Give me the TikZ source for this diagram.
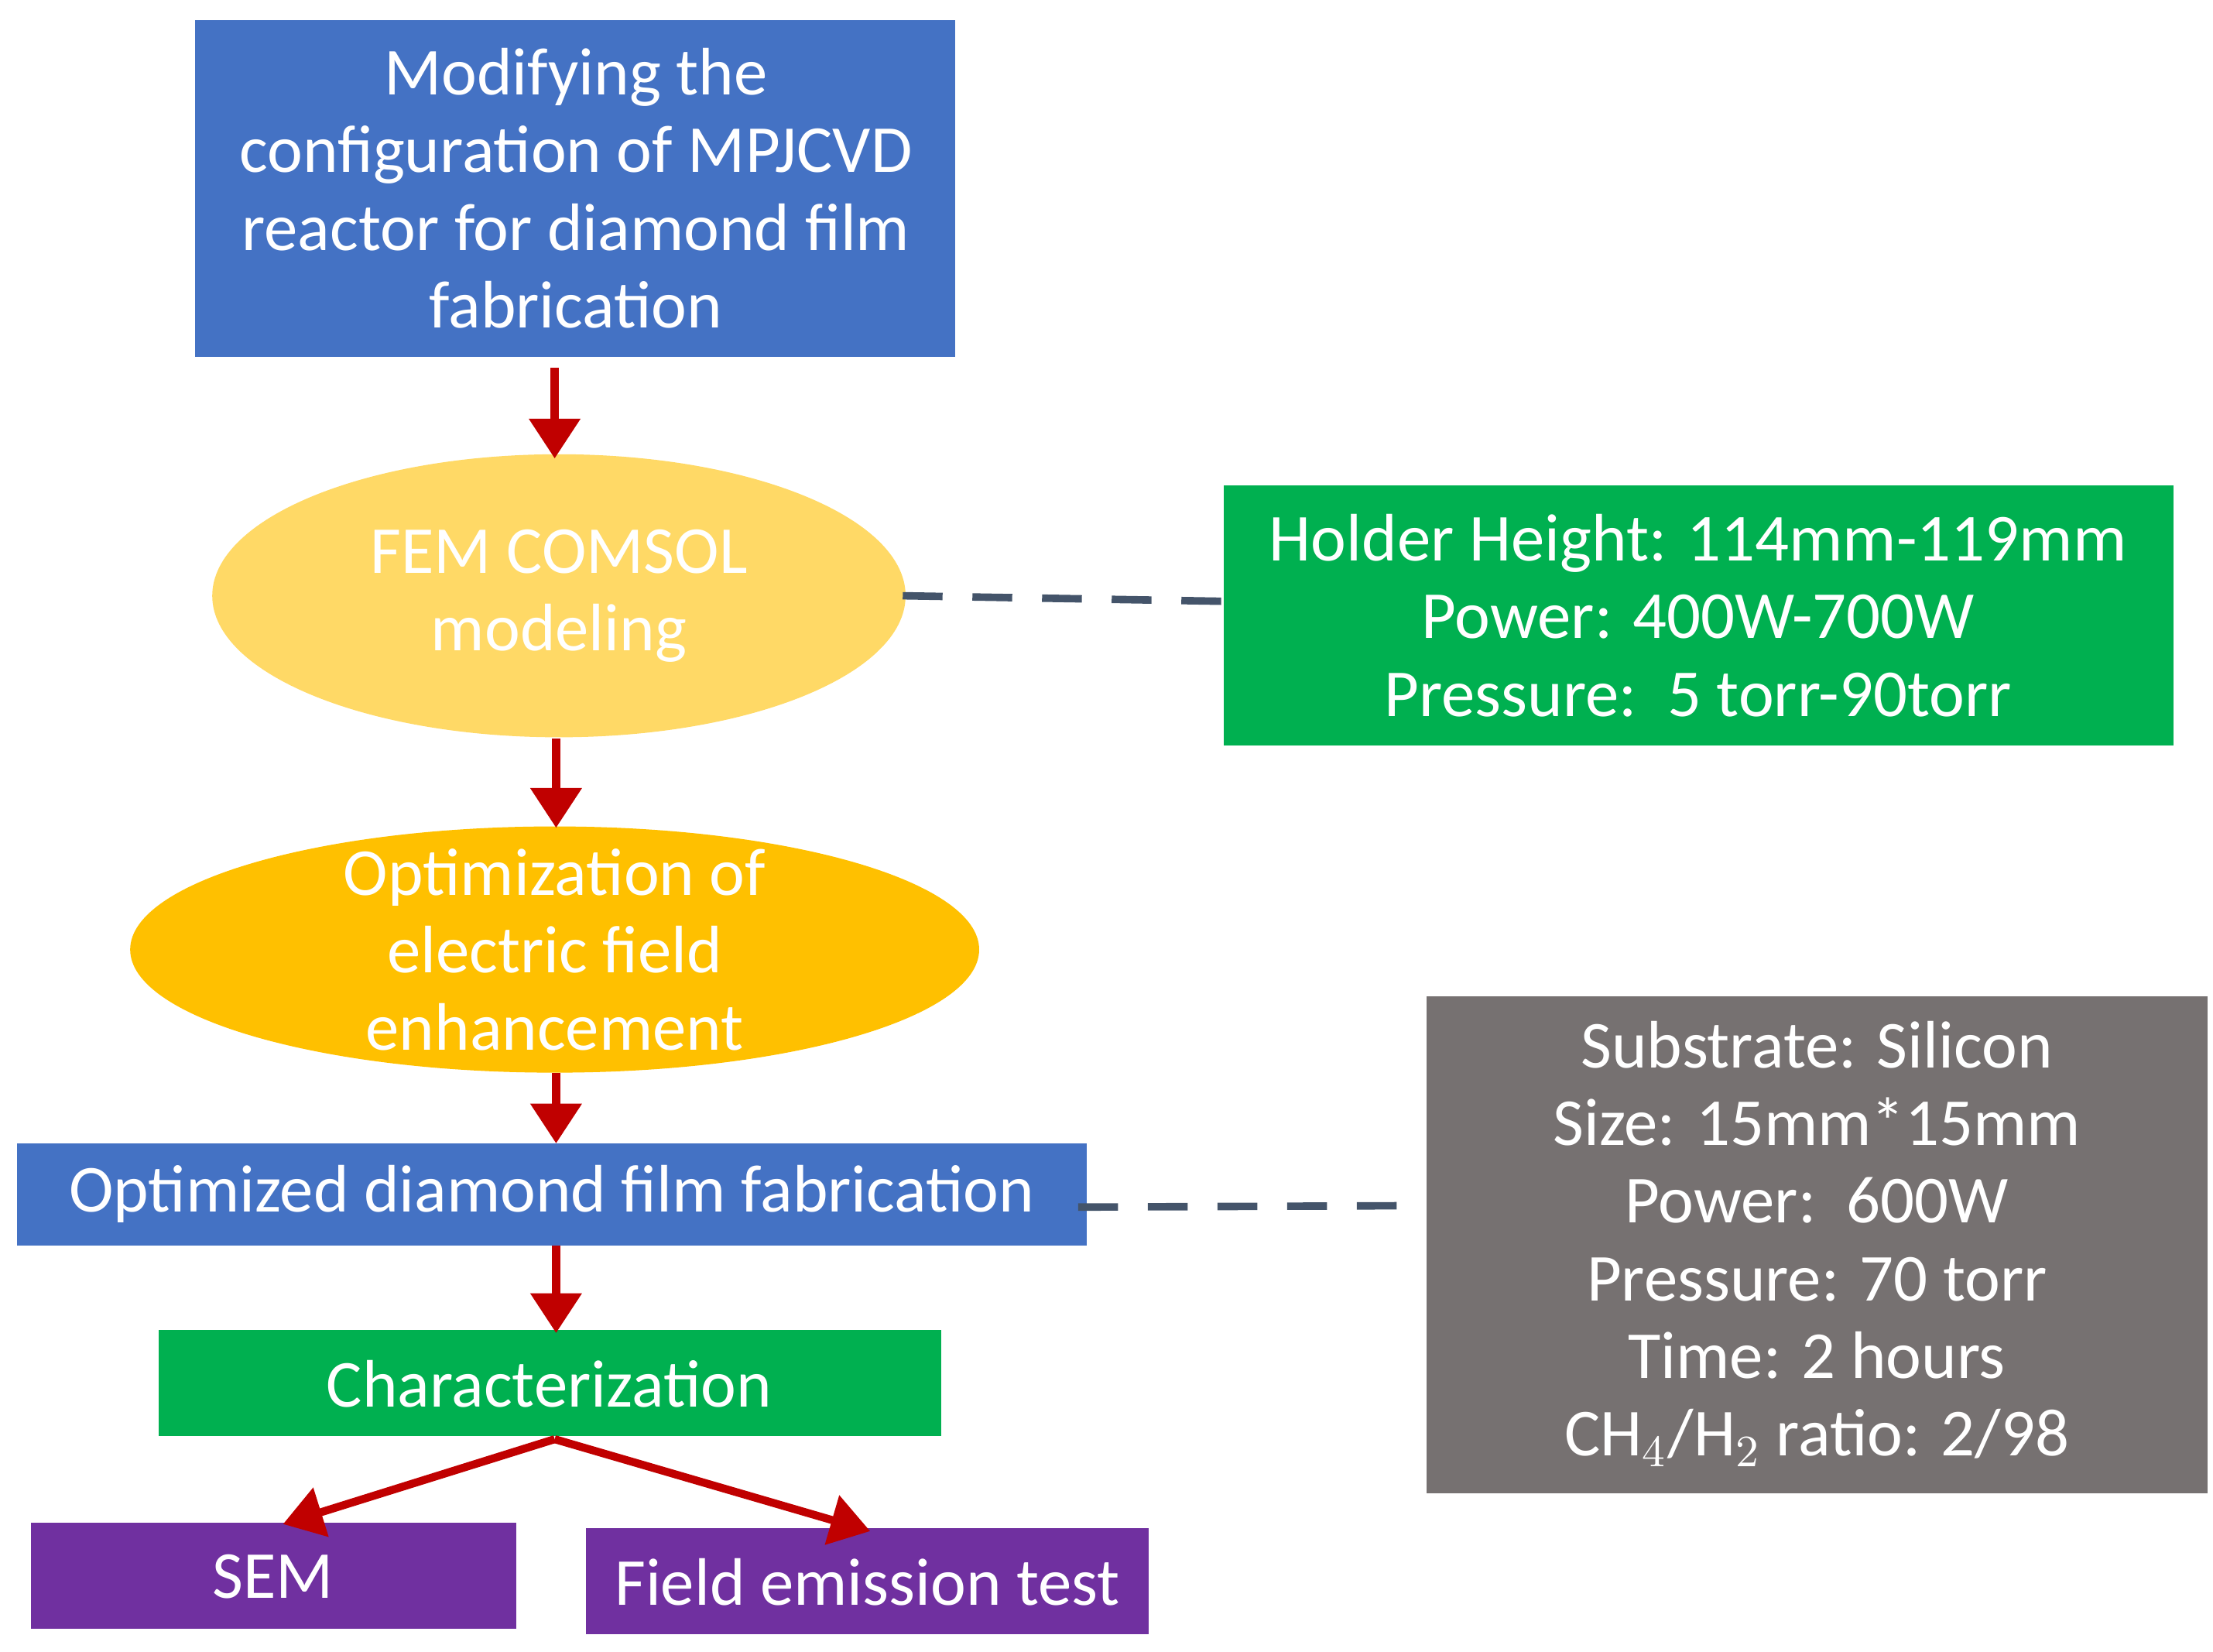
\documentclass[tikz,border=0pt]{standalone}
\usepackage{fontspec}
\setmainfont{Carlito}
\usetikzlibrary{arrows.meta,shapes.geometric}
\definecolor{cblue}{HTML}{4472C4}
\definecolor{cred}{HTML}{C00000}
\definecolor{cy1}{HTML}{FFD966}
\definecolor{cy2}{HTML}{FFC000}
\definecolor{cgreen}{HTML}{00B050}
\definecolor{cgray}{HTML}{767171}
\definecolor{cpurple}{HTML}{7030A0}
\definecolor{cdash}{HTML}{44546A}
\begin{document}
\begin{tikzpicture}[x=0.01cm,y=-0.01cm,
  txt/.style={text=white,align=center,font=\fontsize{13.5}{15.6}\selectfont,inner sep=0pt},
  box/.style={txt,draw=none},
  arr/.style={draw=cred,line width=1.6pt,-{Triangle[length=8pt,width=10pt]}},
  dsh/.style={draw=cdash,line width=1.5pt,dash pattern=on 8pt off 6pt}]
\useasboundingbox (0,0) rectangle (1564,1167);
\fill[cblue] (138,14) rectangle (675,252);
\node[box] (b1) at (407,133) {Modifying the\\configuration of MPJCVD\\reactor for diamond film\\fabrication};
\fill[cy1] (395,421) ellipse [x radius=245,y radius=100];
\node[box] (e1) at (395,421) {FEM COMSOL\\modeling};
\fill[cgreen] (865,343) rectangle (1536,527);
\node[box] (g1) at (1200,435) {Holder Height: 114mm-119mm\\Power: 400W-700W\\Pressure:\ \ 5 torr-90torr};
\fill[cy2] (392,671) ellipse [x radius=300,y radius=87];
\node[box] (e2) at (392,671) {Optimization of\\electric field\\enhancement};
\fill[cblue] (12,808) rectangle (768,880);
\node[box] (b2) at (390,844) {Optimized diamond film fabrication};
\fill[cgray] (1008,704) rectangle (1560,1055);
\node[box] (gr) at (1284,879) {Substrate: Silicon\\Size: 15mm*15mm\\Power:\ \ 600W\\Pressure: 70 torr\\Time: 2 hours\\CH$_4$/H$_2$ ratio: 2/98};
\fill[cgreen] (112,940) rectangle (665,1015);
\node[box] (g2) at (388,978) {Characterization};
\fill[cpurple] (22,1076) rectangle (365,1151);
\node[box] (sem) at (193,1114) {SEM};
\fill[cpurple] (414,1080) rectangle (812,1155);
\node[box] (fe) at (613,1118) {Field emission test};
\coordinate (a1s) at (392,260); \coordinate (a1e) at (392,324);
\coordinate (a2s) at (393,522); \coordinate (a2e) at (393,585);
\coordinate (a3s) at (393,758); \coordinate (a3e) at (393,808);
\coordinate (a4s) at (393,880); \coordinate (a4e) at (393,942);
\coordinate (c0) at (392,1017); \coordinate (cs) at (200,1077); \coordinate (cf) at (615,1082);
\draw[arr] (a1s) -- (a1e);
\draw[arr] (a2s) -- (a2e);
\draw[arr] (a3s) -- (a3e);
\draw[arr] (a4s) -- (a4e);
\draw[arr] (c0) -- (cs);
\draw[arr] (c0) -- (cf);
\coordinate (d1s) at (638,421); \coordinate (d1e) at (870,425);
\coordinate (d2s) at (762,853); \coordinate (d2e) at (998,852);
\draw[dsh] (d1s) -- (d1e);
\draw[dsh] (d2s) -- (d2e);
\end{tikzpicture}
\end{document}
